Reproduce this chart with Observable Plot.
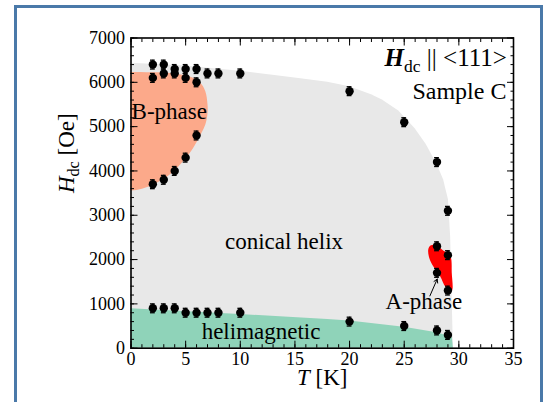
<!DOCTYPE html>
<html>
<head>
<meta charset="utf-8">
<script src="https://cdn.jsdelivr.net/npm/d3@7"></script>
<script src="https://cdn.jsdelivr.net/npm/@observablehq/plot@0.6"></script>
<style>
  html, body { margin: 0; padding: 0; background: #fff; }
  #wrap { position: relative; width: 552px; height: 402px; overflow: hidden; }
  #border { position: absolute; left: 14px; top: 5px; width: 529px; height: 420px;
            border: 3px solid #4a79a9; box-sizing: border-box; }
  #chart { position: absolute; left: 0; top: 0; }
  #chart svg, #chart svg text, #chart svg tspan { font-family: "Liberation Serif", Tinos, "DejaVu Serif", serif !important; }
</style>
</head>
<body>
<div id="wrap"><div id="border"></div><div id="chart"></div></div>
<script>
// ---- data ----
// upper boundary (conical -> field polarized) measurement points
const upperT = [2, 2, 3, 3, 4, 4, 5, 5, 6, 6, 7, 8, 10, 20, 25, 28, 29];
const upperH = [6400, 6100, 6400, 6200, 6300, 6200, 6300, 6100, 6300, 6000, 6200, 6200, 6200, 5800, 5100, 4200, 3100];
// B-phase lower boundary
const bLowT = [2, 3, 4, 5, 6];
const bLowH = [3700, 3800, 4000, 4300, 4800];
// A-phase points
const aT = [28, 28, 29, 29];
const aH = [2300, 1700, 2100, 1300];
// helimagnetic / conical boundary
const heliT = [2, 3, 4, 5, 6, 7, 8, 10, 20, 25, 28, 29];
const heliH = [900, 900, 900, 800, 800, 800, 800, 800, 600, 500, 400, 300];

// region outlines (T [K], H [Oe])
const conicalT = [0, 5, 10, 15, 18, 20, 22, 23, 24.5, 26, 27, 28, 28.6, 29.05, 29.25, 29.35, 29.5];
const conicalH = [6430, 6370, 6250, 6100, 6000, 5900, 5720, 5600, 5350, 4950, 4600, 4150, 3800, 3350, 2500, 1500, 0];
const bPhaseT = [-1, 0, 4, 5.5, 6.3, 6.8, 7.0, 7.0, 6.8, 6.1, 5.5, 4.8, 3.6, 2.1, 1, 0, -1];
const bPhaseH = [6230, 6230, 6200, 6120, 6000, 5800, 5500, 5300, 5050, 4700, 4450, 4230, 3930, 3700, 3600, 3560, 3560];
const heliRegT = [0, 10, 18, 20, 25, 28, 29.4, 29.5];
const heliRegH = [890, 760, 650, 615, 470, 350, 240, 0];
const aPhaseT = [27.2, 27.4, 27.9, 28.6, 29.2, 29.35, 29.35, 28.8, 28.3, 27.7, 27.3];
const aPhaseH = [2230, 2320, 2330, 2200, 2100, 1700, 1300, 1380, 1620, 1830, 2030];

const xMajor = [0, 5, 10, 15, 20, 25, 30, 35];
const yMajor = [0, 1000, 2000, 3000, 4000, 5000, 6000, 7000];
const xMinor = d3.range(0, 36, 1);
const yMinor = d3.range(0, 7001, 200);

const errH = 100;   // error bar half-length [Oe]
const capW = 0.22;  // cap half-width [K]

// ---- build tables ----
const zip = (T, H) => T.map((t, i) => ({T: t, H: H[i]}));
const points = [...zip(upperT, upperH), ...zip(bLowT, bLowH), ...zip(aT, aH), ...zip(heliT, heliH)];
const caps = points.flatMap(d => [{T: d.T, H: d.H + errH}, {T: d.T, H: d.H - errH}]);

const serif = "Liberation Serif, Tinos, DejaVu Serif, serif";
const fmt = d => String(d);

const TITLE = "Hdc || <111>";
const XLABEL = "T [K]";
const YLABEL = "Hdc [Oe]";

const plot = Plot.plot({
  width: 552,
  height: 402,
  marginLeft: 130.5,
  marginRight: 39,
  marginTop: 37.5,
  marginBottom: 54.3,
  style: {background: "transparent", color: "black"},
  x: {domain: [0, 35]},
  y: {domain: [0, 7000]},
  marks: [
    Plot.areaY(zip(conicalT, conicalH), {x: "T", y: "H", fill: "#e8e8e8"}),
    Plot.areaY(zip(heliRegT, heliRegH), {x: "T", y: "H", fill: "#8fd3b9"}),
    Plot.line(zip(bPhaseT, bPhaseH), {x: "T", y: "H", fill: "#fca98a", stroke: "none", curve: "catmull-rom-closed", clip: true}),
    Plot.line(zip(aPhaseT, aPhaseH), {x: "T", y: "H", fill: "#ff0000", stroke: "none", curve: "catmull-rom-closed"}),
    // error bars
    Plot.ruleX(points, {x: "T", y1: d => d.H - errH, y2: d => d.H + errH, stroke: "black", strokeWidth: 1.3}),
    Plot.ruleY(caps, {y: "H", x1: d => d.T - capW, x2: d => d.T + capW, stroke: "black", strokeWidth: 1.3}),
    Plot.dot(points, {x: "T", y: "H", r: 4.2, fill: "black", stroke: "none"}),
    // arrow to A-phase
    Plot.arrow([{a: 27.35, b: 1180, c: 28.02, d: 1560}], {x1: "a", y1: "b", x2: "c", y2: "d", stroke: "black", strokeWidth: 1, headLength: 6}),
    // region labels
    Plot.text(["B-phase"], {x: 0.05, y: 5330, textAnchor: "start", fontSize: 23}),
    Plot.text(["conical helix"], {x: 14.0, y: 2400, fontSize: 23}),
    Plot.text(["helimagnetic"], {x: 11.9, y: 380, fontSize: 23}),
    Plot.text(["A-phase"], {x: 26.8, y: 1060, fontSize: 23}),
    Plot.text([TITLE], {x: 34.4, y: 6540, textAnchor: "end", fontSize: 25}),
    Plot.text(["Sample C"], {x: 34.35, y: 5800, textAnchor: "end", fontSize: 24}),
    // axis labels
    Plot.text([XLABEL], {frameAnchor: "bottom", dy: 37, fontSize: 23}),
    Plot.text([YLABEL], {frameAnchor: "left", dx: -64, rotate: -90, fontSize: 23}),
    // tick labels
    Plot.axisX(xMajor, {anchor: "bottom", tickSize: 0, tickPadding: 4, fontSize: 18, tickFormat: fmt, label: null, stroke: "none"}),
    Plot.axisY(yMajor, {anchor: "left", tickSize: 0, tickPadding: 6, fontSize: 18, tickFormat: fmt, label: null, stroke: "none"}),
    // inward ticks
    Plot.axisX(xMajor, {anchor: "bottom", tickSize: -7, fill: "none", label: null}),
    Plot.axisX(xMajor, {anchor: "top", tickSize: -7, fill: "none", label: null}),
    Plot.axisX(xMinor, {anchor: "bottom", tickSize: -3.5, fill: "none", label: null}),
    Plot.axisX(xMinor, {anchor: "top", tickSize: -3.5, fill: "none", label: null}),
    Plot.axisY(yMajor, {anchor: "left", tickSize: -7, fill: "none", label: null}),
    Plot.axisY(yMajor, {anchor: "right", tickSize: -7, fill: "none", label: null}),
    Plot.axisY(yMinor, {anchor: "left", tickSize: -3.5, fill: "none", label: null}),
    Plot.axisY(yMinor, {anchor: "right", tickSize: -3.5, fill: "none", label: null}),
    Plot.frame({stroke: "black", strokeWidth: 1.6})
  ]
});

document.getElementById("chart").appendChild(plot);

// rich text: italic / bold symbols with subscripts
const svg = d3.select(plot);
svg.selectAll("text").style("font-family", serif);
const byText = s => svg.selectAll("text").filter(function() { return this.textContent === s; });
byText(TITLE).each(function() {
  const t = d3.select(this); t.text("");
  t.append("tspan").attr("font-weight", "bold").attr("font-style", "italic").text("H");
  t.append("tspan").attr("font-size", "0.7em").attr("dy", "0.3em").text("dc");
  t.append("tspan").attr("dy", "-0.21em").text(" || <111>");
});
byText(XLABEL).each(function() {
  const t = d3.select(this); t.text("");
  t.append("tspan").attr("font-style", "italic").text("T");
  t.append("tspan").text(" [K]");
});
byText(YLABEL).each(function() {
  const t = d3.select(this); t.text("");
  t.append("tspan").attr("font-style", "italic").text("H");
  t.append("tspan").attr("font-size", "0.7em").attr("dy", "0.3em").text("dc");
  t.append("tspan").attr("dy", "-0.21em").text(" [Oe]");
});
</script>
</body>
</html>
